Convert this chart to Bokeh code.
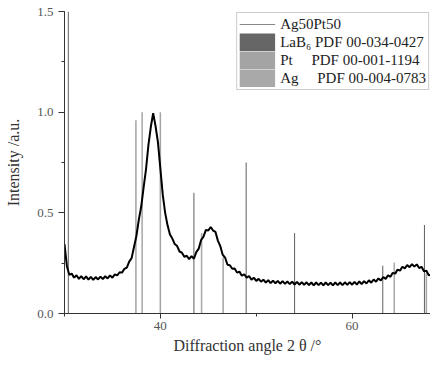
from bokeh.plotting import figure
from bokeh.models import Range1d, Legend, LegendItem, SingleIntervalTicker, PrintfTickFormatter
from bokeh.embed import file_html
from bokeh.resources import INLINE

# Measured pattern (2-theta, normalised intensity)
angle = [30.00, 30.25, 30.50, 30.75, 31.00, 31.25, 31.50, 31.75, 32.00, 32.25,
         32.50, 32.75, 33.00, 33.25, 33.50, 33.75, 34.00, 34.25, 34.50, 34.75,
         35.00, 35.25, 35.50, 35.75, 36.00, 36.25, 36.50, 36.75, 37.00, 37.25,
         37.50, 37.75, 38.00, 38.25, 38.50, 38.75, 39.00, 39.25, 39.50, 39.75,
         40.00, 40.25, 40.50, 40.75, 41.00, 41.25, 41.50, 41.75, 42.00, 42.25,
         42.50, 42.75, 43.00, 43.25, 43.50, 43.75, 44.00, 44.25, 44.50, 44.75,
         45.00, 45.25, 45.50, 45.75, 46.00, 46.25, 46.50, 46.75, 47.00, 47.25,
         47.50, 47.75, 48.00, 48.25, 48.50, 48.75, 49.00, 49.25, 49.50, 49.75,
         50.00, 50.25, 50.50, 50.75, 51.00, 51.25, 51.50, 51.75, 52.00, 52.25,
         52.50, 52.75, 53.00, 53.25, 53.50, 53.75, 54.00, 54.25, 54.50, 54.75,
         55.00, 55.25, 55.50, 55.75, 56.00, 56.25, 56.50, 56.75, 57.00, 57.25,
         57.50, 57.75, 58.00, 58.25, 58.50, 58.75, 59.00, 59.25, 59.50, 59.75,
         60.00, 60.25, 60.50, 60.75, 61.00, 61.25, 61.50, 61.75, 62.00, 62.25,
         62.50, 62.75, 63.00, 63.25, 63.50, 63.75, 64.00, 64.25, 64.50, 64.75,
         65.00, 65.25, 65.50, 65.75, 66.00, 66.25, 66.50, 66.75, 67.00, 67.25,
         67.50, 67.75, 68.00, 68.25, 68.50, 68.75, 69.00]
intensity = [0.345, 0.235, 0.192, 0.198, 0.178, 0.190, 0.172, 0.186, 0.170, 0.184,
             0.168, 0.182, 0.167, 0.181, 0.169, 0.183, 0.171, 0.185, 0.174, 0.189,
             0.178, 0.194, 0.189, 0.205, 0.203, 0.222, 0.228, 0.258, 0.275, 0.330,
             0.385, 0.465, 0.530, 0.625, 0.715, 0.835, 0.925, 0.995, 0.930, 0.850,
             0.720, 0.590, 0.500, 0.438, 0.392, 0.372, 0.345, 0.335, 0.308, 0.302,
             0.282, 0.287, 0.270, 0.285, 0.272, 0.305, 0.322, 0.365, 0.382, 0.415,
             0.412, 0.430, 0.412, 0.405, 0.362, 0.335, 0.292, 0.278, 0.242, 0.240,
             0.222, 0.224, 0.203, 0.208, 0.188, 0.195, 0.178, 0.186, 0.168, 0.178,
             0.162, 0.172, 0.158, 0.168, 0.153, 0.166, 0.151, 0.163, 0.150, 0.162,
             0.148, 0.161, 0.147, 0.159, 0.146, 0.158, 0.144, 0.157, 0.143, 0.156,
             0.142, 0.155, 0.141, 0.154, 0.140, 0.154, 0.141, 0.153, 0.140, 0.154,
             0.141, 0.153, 0.140, 0.154, 0.141, 0.154, 0.141, 0.155, 0.142, 0.156,
             0.143, 0.157, 0.144, 0.159, 0.146, 0.161, 0.149, 0.165, 0.153, 0.169,
             0.158, 0.174, 0.164, 0.181, 0.172, 0.190, 0.182, 0.202, 0.198, 0.218,
             0.213, 0.232, 0.224, 0.241, 0.230, 0.245, 0.233, 0.244, 0.226, 0.232,
             0.210, 0.212, 0.190, 0.193, 0.176, 0.180, 0.165]

# Reference patterns (stick positions and relative heights)
lab6_pos = [30.40, 43.50, 48.95, 54.00, 63.20, 67.55]
lab6_int = [1.60, 0.60, 0.75, 0.40, 0.237, 0.44]
pt_pos = [37.45, 40.00, 46.55, 67.75]
pt_int = [0.96, 1.00, 0.28, 0.20]
ag_pos = [38.10, 44.30, 64.40]
ag_int = [1.00, 0.40, 0.253]

series_names = ["Ag50Pt50", "LaB₆", "Pt", "Ag"]
pdf_cards = ["", "PDF 00-034-0427", "PDF 00-001-1194", "PDF 00-004-0783"]
colors = {"LaB₆": "#666666", "Pt": "#a4a4a4", "Ag": "#a9a9a9"}

FONT = "Liberation Serif"
NAN = float("nan")

p = figure(width=430, height=356, output_backend="svg", toolbar_location=None,
           x_range=Range1d(30, 68.18), y_range=Range1d(0, 1.5),
           min_border_left=64, min_border_right=0, min_border_top=11,
           min_border_bottom=0)
p.outline_line_color = None
p.xgrid.visible = False
p.ygrid.visible = False
p.background_fill_color = "white"

p.vbar(x=lab6_pos, top=lab6_int, bottom=0, width=0.11,
       fill_color=colors["LaB₆"], line_color=None)
p.vbar(x=pt_pos, top=pt_int, bottom=0, width=0.16,
       fill_color=colors["Pt"], line_color=None)
p.vbar(x=ag_pos, top=ag_int, bottom=0, width=0.16,
       fill_color=colors["Ag"], line_color=None)
p.line(angle, intensity, line_color="black", line_width=2.0)

# legend swatches (renderers with no visible data, used only for the legend)
k_data = p.line(x=[NAN], y=[NAN], line_color="#888888", line_width=1)
k_lab6 = p.line(x=[NAN], y=[NAN], line_color=colors["LaB₆"], line_width=18)
k_pt = p.line(x=[NAN], y=[NAN], line_color=colors["Pt"], line_width=18)
k_ag = p.line(x=[NAN], y=[NAN], line_color=colors["Ag"], line_width=18)

p.xaxis.ticker = SingleIntervalTicker(interval=20, num_minor_ticks=2)
p.yaxis.ticker = SingleIntervalTicker(interval=0.5, num_minor_ticks=2)
p.yaxis.formatter = PrintfTickFormatter(format="%.1f")
p.xaxis.axis_label = "Diffraction angle 2 θ /°"
p.yaxis.axis_label = "Intensity /a.u."
for ax in (p.xaxis, p.yaxis):
    ax.axis_label_text_font = FONT
    ax.axis_label_text_font_size = "16px"
    ax.axis_label_text_font_style = "normal"
    ax.axis_label_text_color = "#333333"
    ax.major_label_text_font = FONT
    ax.major_label_text_font_size = "13px"
    ax.major_label_text_color = "#555555"
    ax.axis_line_color = "#333333"
    ax.major_tick_line_color = "#333333"
    ax.minor_tick_line_color = "#333333"
    ax.major_tick_in = 0
    ax.minor_tick_in = 0
p.xaxis.major_tick_out = 5
p.xaxis.minor_tick_out = 3
p.xaxis.major_label_standoff = 3
p.xaxis.axis_label_standoff = 4
p.yaxis.major_tick_out = 6
p.yaxis.minor_tick_out = 3
p.yaxis.major_label_standoff = 5
p.yaxis.axis_label_standoff = 12

nb = "\u00a0"
labels = [
    series_names[0],
    series_names[1] + nb + pdf_cards[1],
    series_names[2] + nb * 5 + pdf_cards[2],
    series_names[3] + nb * 5 + pdf_cards[3],
]
legend = Legend(items=[
    LegendItem(label=labels[0], renderers=[k_data]),
    LegendItem(label=labels[1], renderers=[k_lab6]),
    LegendItem(label=labels[2], renderers=[k_pt]),
    LegendItem(label=labels[3], renderers=[k_ag]),
], location="top_right")
legend.label_text_font = FONT
legend.label_text_font_size = "15px"
legend.label_text_color = "#222222"
legend.glyph_width = 36
legend.glyph_height = 18
legend.label_height = 18
legend.spacing = 0
legend.padding = 2
legend.margin = 1
legend.label_standoff = 5
legend.border_line_color = "#999999"
legend.border_line_width = 1
legend.background_fill_color = "white"
legend.background_fill_alpha = 1
p.add_layout(legend, "center")

open("out.html", "w").write(file_html(p, INLINE))
